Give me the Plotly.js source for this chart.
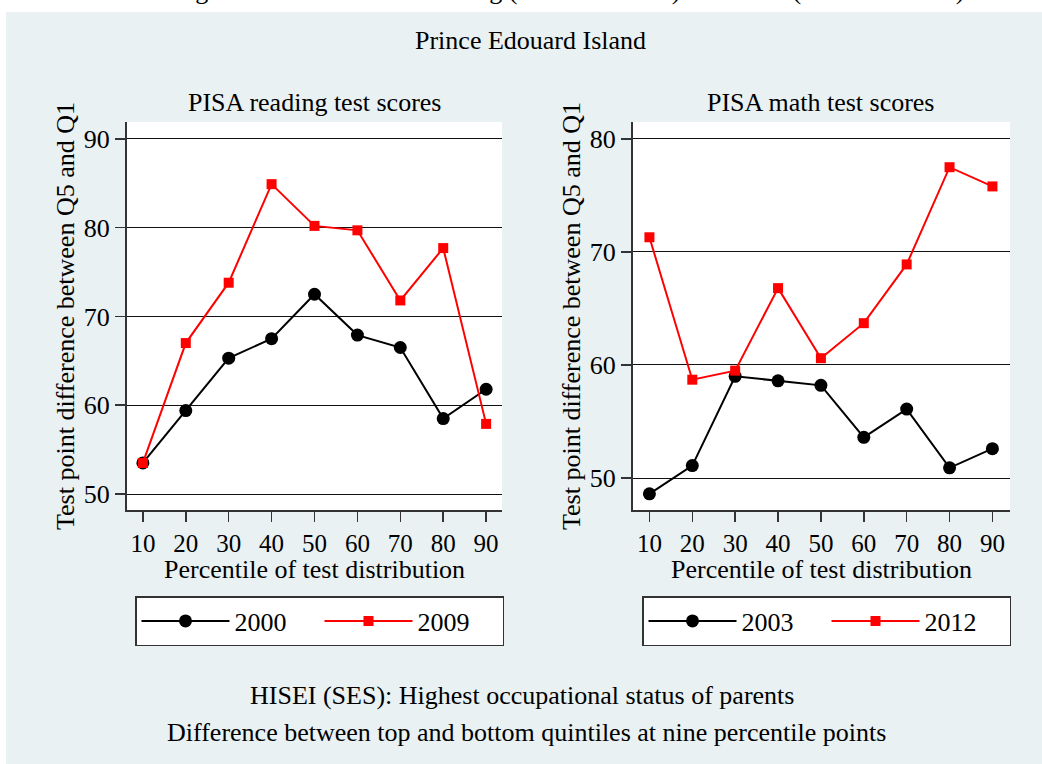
<!DOCTYPE html>
<html><head><meta charset="utf-8">
<script src="https://cdn.plot.ly/plotly-3.0.1.min.js"></script>
<style>html,body{margin:0;padding:0;background:#fff}</style>
</head><body><div id="chart" style="width:1042px;height:764px"></div>
<script>
// ---- data ----
const percentiles = [10, 20, 30, 40, 50, 60, 70, 80, 90];
const reading2000 = [53.5, 59.4, 65.3, 67.5, 72.5, 67.9, 66.5, 58.5, 61.8];
const reading2009 = [53.5, 67.0, 73.8, 84.9, 80.2, 79.7, 71.8, 77.7, 57.9];
const math2003 = [48.6, 51.1, 59.0, 58.6, 58.2, 53.6, 56.1, 50.9, 52.6];
const math2012 = [71.3, 58.7, 59.5, 66.8, 60.6, 63.7, 68.9, 77.5, 75.8];
const readingTicks = [50, 60, 70, 80, 90];
const mathTicks = [50, 60, 70, 80];

// ---- layout helpers ----
const W = 1042, H = 764;
const fx = v => v / W;
const fy = v => 1 - v / H;
const FONT = 'Liberation Serif, Times New Roman, serif';
const FS = 26;

const black = '#000000', red = '#ff0000';

const traces = [
  {x: percentiles, y: reading2000, name: '2000', xaxis: 'x', yaxis: 'y', legend: 'legend',
   mode: 'lines+markers', line: {color: black, width: 2}, marker: {symbol: 'circle', size: 13, color: black}},
  {x: percentiles, y: reading2009, name: '2009', xaxis: 'x', yaxis: 'y', legend: 'legend',
   mode: 'lines+markers', line: {color: red, width: 2}, marker: {symbol: 'square', size: 10, color: red}},
  {x: percentiles, y: math2003, name: '2003', xaxis: 'x2', yaxis: 'y2', legend: 'legend2',
   mode: 'lines+markers', line: {color: black, width: 2}, marker: {symbol: 'circle', size: 13, color: black}},
  {x: percentiles, y: math2012, name: '2012', xaxis: 'x2', yaxis: 'y2', legend: 'legend2',
   mode: 'lines+markers', line: {color: red, width: 2}, marker: {symbol: 'square', size: 10, color: red}}
];

const axisCommon = {
  showline: true, linecolor: '#333', linewidth: 2, ticks: 'outside', ticklen: 10,
  tickcolor: '#333', tickwidth: 1.5, zeroline: false, tickfont: {family: FONT, size: FS, color: black},
  fixedrange: true
};

const xAxisCommon = Object.assign({}, axisCommon, {tickvals: percentiles, showgrid: false,
  tickfont: {family: FONT, size: 25, color: black}});
const yAxisCommon = Object.assign({}, axisCommon, {showgrid: true, gridcolor: '#111', gridwidth: 1});

const legendCommon = {
  orientation: 'h', xanchor: 'left', yanchor: 'top', bgcolor: '#ffffff',
  bordercolor: '#333', borderwidth: 1.5, font: {family: FONT, size: FS, color: black},
  itemwidth: 88, entrywidth: 80, traceorder: 'normal', itemclick: false, itemdoubleclick: false
};

function ann(text, x, y, extra) {
  return Object.assign({text: text, x: x, y: y, xref: 'paper', yref: 'paper', showarrow: false,
    xanchor: 'center', yanchor: 'middle', font: {family: FONT, size: FS, color: black}}, extra || {});
}

const layout = {
  width: W, height: H,
  margin: {l: 0, r: 0, t: 0, b: 0, pad: 0},
  paper_bgcolor: '#E9F1F3', plot_bgcolor: '#ffffff',
  font: {family: FONT, size: FS, color: black},
  showlegend: true,
  xaxis: Object.assign({}, xAxisCommon, {domain: [fx(127), fx(502)], range: [6.3, 93.7], anchor: 'y'}),
  yaxis: Object.assign({}, yAxisCommon, {domain: [fy(510), fy(122)], range: [48.2, 91.9], tickvals: readingTicks, anchor: 'x'}),
  xaxis2: Object.assign({}, xAxisCommon, {domain: [fx(633), fx(1010)], range: [6.17, 94.1], anchor: 'y2'}),
  yaxis2: Object.assign({}, yAxisCommon, {domain: [fy(510), fy(122)], range: [47.17, 81.5], tickvals: mathTicks, anchor: 'x2'}),
  legend: Object.assign({}, legendCommon, {x: fx(135), y: fy(596)}),
  legend2: Object.assign({}, legendCommon, {x: fx(642), y: fy(596)}),
  shapes: [
    {type: 'rect', xref: 'paper', yref: 'paper', x0: 0, x1: 1, y0: fy(12), y1: 1, fillcolor: '#ffffff', line: {width: 0}, layer: 'below'},
    {type: 'rect', xref: 'paper', yref: 'paper', x0: 0, x1: fx(6), y0: 0, y1: 1, fillcolor: '#ffffff', line: {width: 0}, layer: 'below'}
  ],
  annotations: [
    ann('SES gradients in Canada: Reading (2000 and 2009) and Math (2003 and 2012)', fx(554), fy(7), {yanchor: 'bottom'}),
    ann('Prince Edouard Island', fx(530), fy(41)),
    ann('PISA reading test scores', fx(314), fy(103)),
    ann('PISA math test scores', fx(821), fy(103)),
    ann('Test point difference between Q5 and Q1', fx(65), fy(316), {textangle: -90}),
    ann('Test point difference between Q5 and Q1', fx(571), fy(316), {textangle: -90}),
    ann('Percentile of test distribution', fx(314), fy(569)),
    ann('Percentile of test distribution', fx(821), fy(569)),
    ann('HISEI (SES): Highest occupational status of parents', fx(522), fy(695)),
    ann('Difference between top and bottom quintiles at nine percentile points', fx(526), fy(732))
  ]
};

Plotly.newPlot('chart', traces, layout, {displayModeBar: false, staticPlot: true});
</script>
</body></html>
